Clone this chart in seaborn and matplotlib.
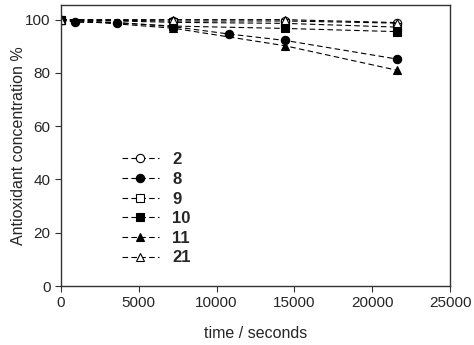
import numpy as np
import pandas as pd
import matplotlib
matplotlib.use("Agg")
import matplotlib.pyplot as plt
import seaborn as sns

# data
labels = ["2", "8", "9", "10", "11", "21"]
t_short = [0, 7200, 14400, 21600]
t_long = [0, 900, 3600, 7200, 10800, 14400, 21600]
conc_2 = [100, 99.5, 99.5, 98.7]
conc_8 = [100, 99.0, 98.9, 97.4, 94.6, 92.2, 85.2]
conc_9 = [100, 99.0, 98.6, 97.2]
conc_10 = [100, 97.6, 96.7, 95.5]
conc_11 = [100, 96.8, 90.2, 81.0]
conc_21 = [100, 100, 100, 98.9]

series = [
    ("2", t_short, conc_2, "o", "white"),
    ("8", t_long, conc_8, "o", "black"),
    ("9", t_short, conc_9, "s", "white"),
    ("10", t_short, conc_10, "s", "black"),
    ("11", t_short, conc_11, "^", "black"),
    ("21", t_short, conc_21, "^", "white"),
]

sns.set_style("ticks")
plt.rcParams['font.family'] = ['Liberation Sans', 'DejaVu Sans']

fig = plt.figure(figsize=(4.74, 3.45), dpi=100)
ax = fig.add_axes([61 / 474, 59 / 345, 389 / 474, 281 / 345])

for name, t, c, mk, fc in series:
    df = pd.DataFrame({"time": t, "conc": c})
    sns.lineplot(data=df, x="time", y="conc", ax=ax, color="black", lw=0.8,
                 linestyle=(0, (5, 3)), marker=mk, markersize=6,
                 markerfacecolor=fc, markeredgecolor="black", markeredgewidth=0.8,
                 label=name)

ax.set_xlim(0, 25000)
ax.set_ylim(0, 105.5)
ax.set_xticks(np.arange(0, 25001, 5000))
ax.set_yticks(np.arange(0, 101, 20))
ax.tick_params(labelsize=11, length=4, direction="out", color="#333333")
ax.set_xlabel("time / seconds", fontsize=11.5, labelpad=11)
ax.set_ylabel("Antioxidant concentration %", fontsize=11.5, labelpad=-1)
for s in ax.spines.values():
    s.set_visible(True)
    s.set_linewidth(1.0)
    s.set_color("#333333")

leg = ax.legend(loc="upper left", bbox_to_anchor=(0.14, 0.50), frameon=False,
                prop={"weight": "bold", "size": 12}, handlelength=2.2,
                labelspacing=0.28, borderaxespad=0)

fig.savefig("out.png", dpi=100)
